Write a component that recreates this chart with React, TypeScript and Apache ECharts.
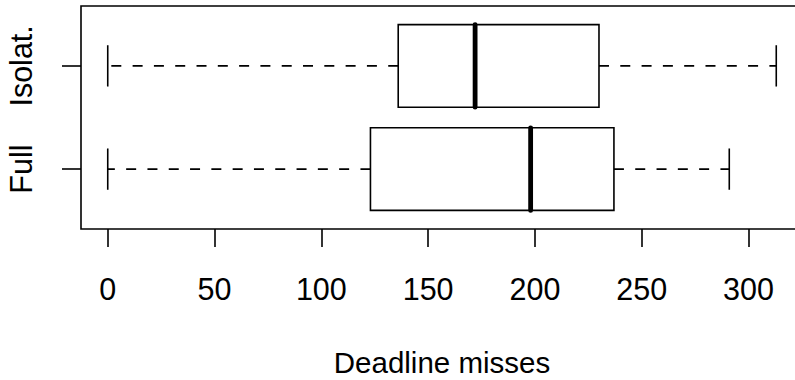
import React, { useEffect, useRef } from "react";
import * as echarts from "echarts";

const categories = ["Full", "Isolat."];
const categoryPositions = [1, 2];
const whiskerLow = [0, 0];
const quartile1 = [123, 136];
const medians = [198, 172];
const quartile3 = [237, 230];
const whiskerHigh = [291, 313];
const xTicks = [0, 50, 100, 150, 200, 250, 300];
const xTitle = "Deadline misses";

const FONT = "'Liberation Sans', Arial, Helvetica, sans-serif";
const FS = 30.5;

export default function App() {
  const ref = useRef<HTMLDivElement>(null);
  useEffect(() => {
    if (!ref.current) return;
    const chart = echarts.init(ref.current, null, { renderer: "svg" });
    const lo = Math.min(...whiskerLow);
    const hi = Math.max(...whiskerHigh);
    const pad = (hi - lo) * 0.04;
    const rows = categories.map((_, i) => [
      categoryPositions[i],
      whiskerLow[i],
      quartile1[i],
      medians[i],
      quartile3[i],
      whiskerHigh[i],
    ]);
    const lw = 1.6;
    const renderItem = (params: any, api: any) => {
      const pos = api.value(0);
      const mn = api.value(1);
      const q1 = api.value(2);
      const md = api.value(3);
      const q3 = api.value(4);
      const mx = api.value(5);
      const c = (v: number) => api.coord([v, pos]);
      const halfBox = Math.abs(api.coord([0, pos + 0.4])[1] - api.coord([0, pos])[1]);
      const halfStaple = halfBox / 2;
      const pMin = c(mn), pQ1 = c(q1), pMd = c(md), pQ3 = c(q3), pMax = c(mx);
      const y = pMd[1];
      const stroke = { stroke: "#000", lineWidth: lw, fill: null };
      const dashed = { stroke: "#000", lineWidth: lw, lineDash: [10, 11.3], fill: null };
      return {
        type: "group",
        children: [
          { type: "line", shape: { x1: pQ1[0], y1: y, x2: pMin[0], y2: y }, style: dashed },
          { type: "line", shape: { x1: pQ3[0], y1: y, x2: pMax[0], y2: y }, style: dashed },
          { type: "line", shape: { x1: pMin[0], y1: y - halfStaple, x2: pMin[0], y2: y + halfStaple }, style: stroke },
          { type: "line", shape: { x1: pMax[0], y1: y - halfStaple, x2: pMax[0], y2: y + halfStaple }, style: stroke },
          {
            type: "rect",
            shape: { x: pQ1[0], y: y - halfBox, width: pQ3[0] - pQ1[0], height: 2 * halfBox },
            style: { stroke: "#000", lineWidth: lw, fill: "#fff" },
          },
          { type: "line", shape: { x1: pMd[0], y1: y - halfBox, x2: pMd[0], y2: y + halfBox }, style: { stroke: "#000", lineWidth: 4.8, lineCap: "round" } },
        ],
      };
    };
    chart.setOption({
      animation: false,
      backgroundColor: "#fff",
      grid: {
        left: 81,
        right: 1,
        top: 6,
        bottom: 151,
        show: true,
        borderColor: "#000",
        borderWidth: lw,
        backgroundColor: "transparent",
        containLabel: false,
        outerBoundsMode: "none",
      },
      xAxis: {
        type: "value",
        min: lo - pad,
        max: hi + pad,
        splitLine: { show: false },
        axisLine: { show: false, onZero: false },
        axisTick: { show: true, customValues: xTicks, length: 18, lineStyle: { color: "#000", width: lw } },
        axisLabel: {
          customValues: xTicks,
          margin: 44,
          color: "#000",
          fontSize: FS,
          fontFamily: FONT,
        },
        name: xTitle,
        nameLocation: "middle",
        nameGap: 121,
        nameTextStyle: { color: "#000", fontSize: 29.5, fontFamily: FONT, lineHeight: 24 },
      },
      yAxis: {
        type: "value",
        min: 0.42,
        max: 2.58,
        splitLine: { show: false },
        axisLine: { show: false, onZero: false },
        axisTick: { show: true, customValues: categoryPositions, length: 19, lineStyle: { color: "#000", width: lw } },
        axisLabel: {
          customValues: categoryPositions,
          formatter: (v: number) => categories[categoryPositions.indexOf(Math.round(v))] ?? "",
          rotate: 90,
          align: "center",
          verticalAlign: "bottom",
          margin: 45,
          color: "#000",
          fontSize: FS,
          fontFamily: FONT,
        },
      },
      series: [
        {
          type: "custom",
          renderItem,
          encode: { x: [1, 2, 3, 4, 5], y: 0 },
          data: rows,
          silent: true,
        },
      ],
    });
    return () => chart.dispose();
  }, []);
  return (
    <div style={{ position: "absolute", left: 0, top: 0, width: 795, height: 380, overflow: "hidden", background: "#fff" }}>
      <div ref={ref} style={{ width: 804, height: 380 }} />
    </div>
  );
}
